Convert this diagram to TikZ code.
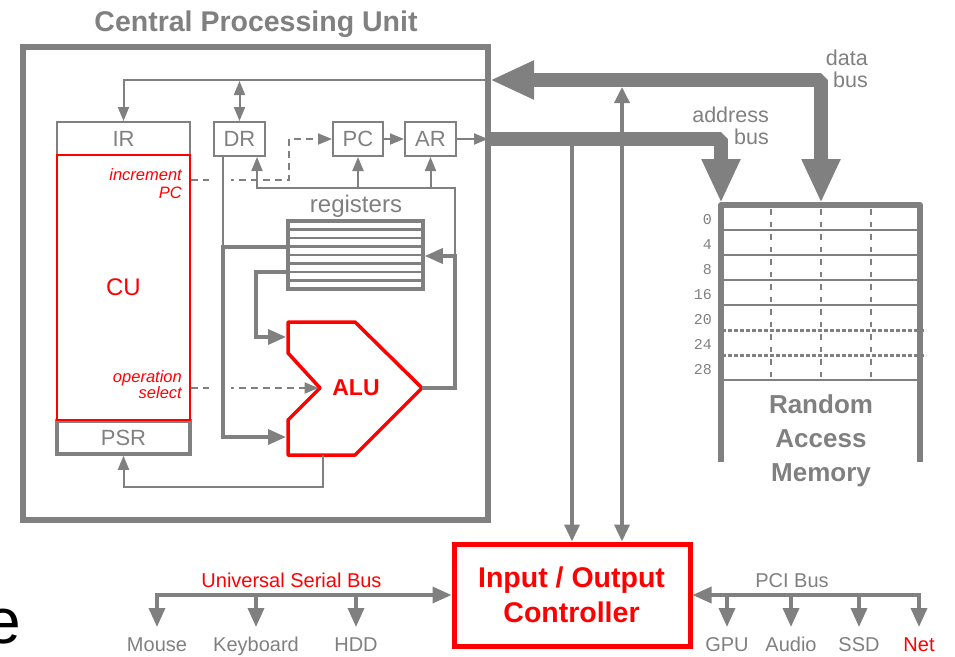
\documentclass[tikz,border=0pt]{standalone}
\usepackage{fontspec}
\setmainfont{Liberation Sans}
\setmonofont{Liberation Mono}
\usetikzlibrary{arrows.meta}
\definecolor{gr}{HTML}{808080}
\definecolor{rd}{HTML}{FF0000}
\newcommand{\fs}[1]{\fontsize{#1}{#1}\selectfont}
\begin{document}
\begin{tikzpicture}[x=1pt,y=-1pt,
  lbl/.style={inner sep=0pt,text=gr},
  regbox/.style={draw=gr,line width=2pt,inner sep=0pt,text=gr,font=\fs{22}},
  thinln/.style={draw=gr,line width=2pt},
  thinarr/.style={thinln,-{Triangle[length=14pt,width=11pt]}},
  dashln/.style={draw=gr,line width=2pt,dash pattern=on 7pt off 5pt,-{Triangle[length=14pt,width=11pt]}},
  thkln/.style={draw=gr,line width=3.5pt},
  thkarr/.style={thkln,-{Triangle[length=18pt,width=15pt]}},
  busln/.style={draw=gr,line width=14pt,line join=bevel},
  ioln/.style={draw=gr,line width=3.5pt},
  devln/.style={draw=gr,line width=3.5pt},
]
\useasboundingbox (0,0) rectangle (955,656);

% ---------- CPU ----------
\node[draw=gr,line width=6pt,minimum width=465pt,minimum height=473pt,inner sep=0pt] (cpu) at (255.5,283.5) {};
\node[lbl,anchor=base,font=\bfseries\fs{28.5}] (cputitle) at (256,31) {Central Processing Unit};

% registers column
\node[regbox,minimum width=133pt,minimum height=33pt] (IR) at (123.5,138.5) {IR};
\node[regbox,line width=3.5pt,minimum width=133pt,minimum height=33pt] (PSR) at (123.5,437.5) {PSR};
\node[draw=rd,line width=2pt,inner sep=0pt,minimum width=133pt,minimum height=265pt,text=rd,font=\fs{24}] (CU) at (123.5,287.5) {CU};
\node[inner sep=0pt,anchor=base east,text=rd,font=\itshape\fs{16.5}] (inc1) at (182,180) {increment};
\node[inner sep=0pt,anchor=base east,text=rd,font=\itshape\fs{16.5}] (inc2) at (182,198) {PC};
\node[inner sep=0pt,anchor=base east,text=rd,font=\itshape\fs{16.5}] (ops1) at (182,382) {operation};
\node[inner sep=0pt,anchor=base east,text=rd,font=\itshape\fs{16.5}] (ops2) at (182,398) {select};

\node[regbox,minimum width=51pt,minimum height=34pt] (DR) at (239.5,139) {DR};
\node[regbox,minimum width=50pt,minimum height=34pt] (PC) at (358,139) {PC};
\node[regbox,minimum width=51pt,minimum height=34pt] (AR) at (430.5,139) {AR};

% register file
\node[draw=gr,line width=3.5pt,inner sep=0pt,minimum width=135pt,minimum height=68pt] (regs) at (355.5,255) {};
\foreach \k in {1,...,7} \draw[gr,line width=2.5pt] (288,{221+8.5*\k}) -- (423,{221+8.5*\k});
\node[lbl,anchor=base,font=\fs{24}] (regslbl) at (356,212) {registers};

% ALU
\coordinate (a1) at (288,322);
\coordinate (a2) at (355,322);
\coordinate (aluout) at (422,388);
\coordinate (a4) at (355,455);
\coordinate (a5) at (288,455);
\coordinate (a6) at (288,420);
\coordinate (alunotch) at (320,388);
\coordinate (a8) at (288,353);
\coordinate (ain1) at (286,337);
\coordinate (ain2) at (286,437);
\coordinate (alubot) at (323,455);
\draw[rd,line width=3.5pt,line join=round] (a1) -- (a2) -- (aluout) -- (a4) -- (a5) -- (a6) -- (alunotch) -- (a8) -- cycle;
\node[inner sep=0pt,anchor=base,text=rd,font=\bfseries\fs{23}] (alu) at (356,395) {ALU};

% control (dashed)
\draw[dashln] (CU.east |- 0,180) -- (289,180) |- (PC.west);
\draw[dashln,shorten >=1.5pt] (CU.east |- 0,388) -- (alunotch);
\draw[white,line width=6pt] (209,180) -- (231,180);
\draw[white,line width=6pt] (209,388) -- (231,388);

% data paths
\coordinate (dbin) at (490,80);
\draw[thinarr] (dbin) -| (IR.north);
\draw[thinln,{Triangle[length=14pt,width=11pt]}-{Triangle[length=14pt,width=11pt]}] (DR.north |- 0,81) -- (DR.north);
\draw[thinln] (DR.south -| 223,0) -- (223,247);
\draw[thkarr] (regs.west |- 0,247) -- (223,247) |- (ain2);
\draw[thkarr] (regs.west |- 0,272) -- (256,272) |- (ain1);
\draw[thkarr] (aluout) -- (455,388) |- (regs.east |- 0,256);
\draw[thinarr] (455,256) -- (455,188) -| (DR.south -| 257,0);
\draw[thinarr] (PC.south |- 0,188) -- (PC.south);
\draw[thinarr] (AR.south |- 0,188) -- (AR.south);
\draw[thinarr] (PC.east) -- (AR.west);
\draw[thinarr,shorten >=3pt] (AR.east) -- (AR.east -| cpu.east);
\draw[thinarr] (alubot) -- (323,487) -| (PSR.south);

% ---------- I/O controller ----------
\node[draw=rd,line width=5pt,minimum width=236pt,minimum height=102pt,inner sep=0pt] (ioc) at (572,595) {};
\node[inner sep=0pt,anchor=base,text=rd,font=\bfseries\fs{28.5}] (ioc1) at (571.5,587) {Input / Output};
\node[inner sep=0pt,anchor=base,text=rd,font=\bfseries\fs{28.5}] (ioc2) at (571.5,622) {Controller};

\draw[ioln,-{Triangle[length=17pt,width=15pt]}] (572,139) -- (ioc.north -| 572,0);
\draw[ioln,{Triangle[length=16pt,width=15pt]}-{Triangle[length=17pt,width=15pt]}] (622,87) -- (ioc.north -| 622,0);

% ---------- RAM ----------
\coordinate (ramA) at (721,203);
\coordinate (ramD) at (821,203);
\foreach \y in {230,255,280,305,380} \draw[gr,line width=2pt] (721,\y) -- (920,\y);
\foreach \y in {330,355} \draw[gr,line width=3pt,dash pattern=on 3.5pt off 2.5pt] (722,\y) -- (926,\y);
\foreach \x in {771,821,871} \draw[gr,line width=2pt,dash pattern=on 5.5pt off 7pt] (\x,209) -- (\x,380);
\draw[gr,line width=6pt,line join=round] (721,462) -- (721,205) -- (920,205) -- (920,462);
\foreach \n [count=\i from 0] in {0,4,8,16,20,24,28}
  \node[lbl,anchor=base east,font=\ttfamily\fs{15}] (addr\i) at (712,{224+25*\i}) {\n};
\node[lbl,anchor=base,font=\bfseries\fs{26}] (ram1) at (821,413) {Random};
\node[lbl,anchor=base,font=\bfseries\fs{26}] (ram2) at (821,447) {Access};
\node[lbl,anchor=base,font=\bfseries\fs{26}] (ram3) at (821,481) {Memory};

% ---------- buses ----------
\draw[busln,{Triangle[length=44pt,width=36pt]}-{Triangle[length=44pt,width=36pt]}] (dbin) -- (821,80) -- (ramD);
\draw[busln,-{Triangle[length=44pt,width=36pt]}] (488,139) -- (721,139) -- (ramA);
\node[lbl,anchor=base east,font=\fs{21.5}] (db1) at (868,65) {data};
\node[lbl,anchor=base east,font=\fs{21.5}] (db2) at (868,87) {bus};
\node[lbl,anchor=base east,font=\fs{21.5}] (ab1) at (769,122) {address};
\node[lbl,anchor=base east,font=\fs{21.5}] (ab2) at (769,144) {bus};

% ---------- USB ----------
\coordinate (mouseT) at (157,627);
\coordinate (kbdT) at (256,627);
\coordinate (hddT) at (356,627);
\draw[devln,{Triangle[length=19pt,width=16pt]}-{Triangle[length=19pt,width=16pt]}] (mouseT) |- (ioc.west);
\draw[devln,-{Triangle[length=19pt,width=16pt]}] (kbdT |- ioc.west) -- (kbdT);
\draw[devln,-{Triangle[length=19pt,width=16pt]}] (hddT |- ioc.west) -- (hddT);
\node[inner sep=0pt,anchor=base,text=rd,font=\fs{20}] (usb) at (291.5,587) {Universal Serial Bus};
\node[lbl,anchor=base,font=\fs{20}] (mouse) at (157,651.5) {Mouse};
\node[lbl,anchor=base,font=\fs{20}] (kbd) at (256,651.5) {Keyboard};
\node[lbl,anchor=base,font=\fs{20}] (hdd) at (356,651.5) {HDD};

% ---------- PCI ----------
\coordinate (gpuT) at (727,627);
\coordinate (audT) at (791,627);
\coordinate (ssdT) at (859,627);
\coordinate (netT) at (919,627);
\draw[devln,{Triangle[length=19pt,width=16pt]}-{Triangle[length=19pt,width=16pt]}] (ioc.east) -| (netT);
\draw[devln,-{Triangle[length=19pt,width=16pt]}] (gpuT |- ioc.east) -- (gpuT);
\draw[devln,-{Triangle[length=19pt,width=16pt]}] (audT |- ioc.east) -- (audT);
\draw[devln,-{Triangle[length=19pt,width=16pt]}] (ssdT |- ioc.east) -- (ssdT);
\node[lbl,anchor=base,font=\fs{20}] (pci) at (792,587) {PCI Bus};
\node[lbl,anchor=base,font=\fs{20}] (gpu) at (727,651.5) {GPU};
\node[lbl,anchor=base,font=\fs{20}] (aud) at (791,651.5) {Audio};
\node[lbl,anchor=base,font=\fs{20}] (ssd) at (859,651.5) {SSD};
\node[inner sep=0pt,anchor=base,text=rd,font=\fs{20}] (net) at (919,651.5) {Net};

% stray slide letter
\node[inner sep=0pt,anchor=base west,font=\fs{64}] (bigE) at (-15,643) {e};
\end{tikzpicture}
\end{document}
